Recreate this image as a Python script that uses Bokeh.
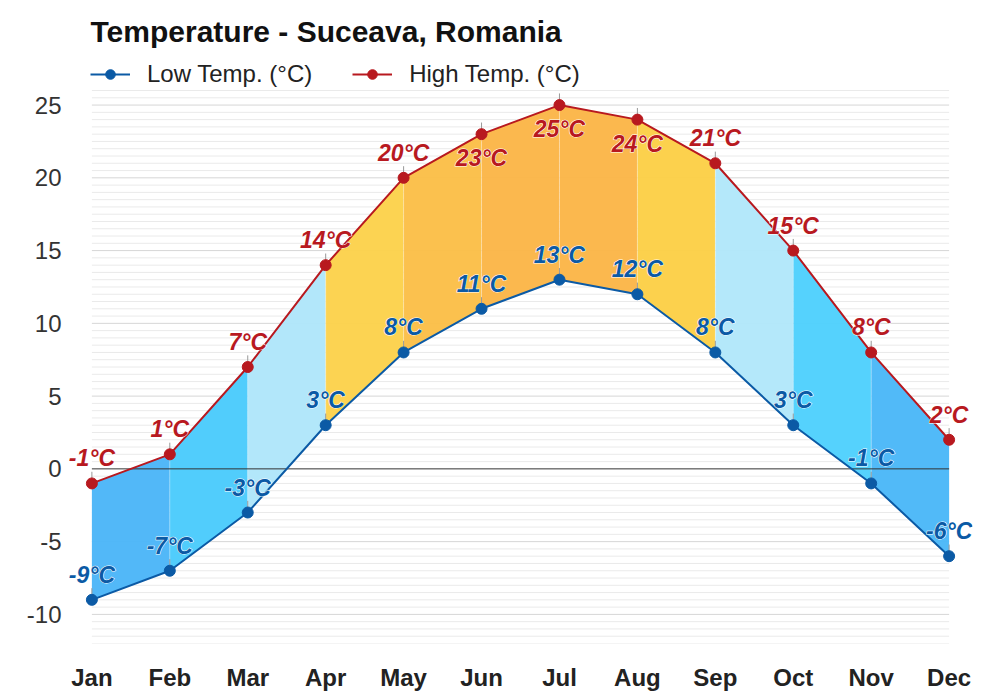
from bokeh.plotting import figure
from bokeh.models import (FixedTicker, Legend, LegendItem)
from bokeh.core.properties import value
from bokeh.embed import file_html
from bokeh.resources import INLINE

months = ["Jan", "Feb", "Mar", "Apr", "May", "Jun", "Jul", "Aug", "Sep", "Oct", "Nov", "Dec"]
low_temp = [-9, -7, -3, 3, 8, 11, 13, 12, 8, 3, -1, -6]
high_temp = [-1, 1, 7, 14, 20, 23, 25, 24, 21, 15, 8, 2]
high_label_below = ["Jun", "Jul", "Aug"]
y_ticks = [-10, -5, 0, 5, 10, 15, 20, 25]
grid_min, grid_max, grid_step = -12, 26, 0.5

seg_colors = ["#4cb6f8", "#4bcbfc", "#b0e6fa", "#fcd24c", "#fbbf48", "#fbb648",
              "#fbb648", "#fcd047", "#b2e7fa", "#4fd1fd", "#4bb8f8"]

FONT = "Liberation Sans"
LOW_C = "#0b5aa5"
HIGH_C = "#b8191f"

xs = list(range(len(months)))
x_first, x_last = xs[0], xs[-1]

p = figure(width=1000, height=700, output_backend="svg", toolbar_location=None,
           x_range=(-0.3, 11.3), y_range=(-12, 28.75),
           min_border_left=68, min_border_right=28, min_border_bottom=57, min_border_top=50)
p.outline_line_color = None
p.background_fill_color = "white"
p.border_fill_color = "white"
p.xgrid.grid_line_color = None
p.ygrid.grid_line_color = None

# manual horizontal grid limited to the data span
n_grid = int(round((grid_max - grid_min) / grid_step)) + 1
grid_vals = [grid_min + k * grid_step for k in range(n_grid)]
minor_vals = [g for g in grid_vals if g % 5 != 0]
major_vals = [g for g in grid_vals if g % 5 == 0 and g != 0]
p.segment(x0=[x_first] * len(minor_vals), y0=minor_vals, x1=[x_last] * len(minor_vals),
          y1=minor_vals, line_color="#eaeaea", line_width=1)
p.segment(x0=[x_first] * len(major_vals), y0=major_vals, x1=[x_last] * len(major_vals),
          y1=major_vals, line_color="#d6d6d6", line_width=1)

# segment fills
patch_xs, patch_ys = [], []
for i in range(len(months) - 1):
    patch_xs.append([xs[i], xs[i + 1], xs[i + 1], xs[i]])
    patch_ys.append([low_temp[i], low_temp[i + 1], high_temp[i + 1], high_temp[i]])
p.patches(patch_xs, patch_ys, fill_color=seg_colors, line_color=None, fill_alpha=0.97)

# faint boundaries between segments
p.segment(x0=xs[1:-1], y0=low_temp[1:-1], x1=xs[1:-1], y1=high_temp[1:-1],
          line_color="white", line_alpha=0.3, line_width=1)

# zero line
p.segment(x0=[x_first], y0=[0], x1=[x_last], y1=[0], line_color="#333333", line_width=1)

# connector ticks above points
tick_len = 0.8
p.segment(x0=xs, y0=high_temp, x1=xs, y1=[h + tick_len for h in high_temp],
          line_color="#999999", line_width=1)
p.segment(x0=xs, y0=low_temp, x1=xs, y1=[l + tick_len for l in low_temp],
          line_color="#999999", line_width=1)

# lines
low_line = p.line(xs, low_temp, line_color=LOW_C, line_width=2)
high_line = p.line(xs, high_temp, line_color=HIGH_C, line_width=2)
low_pts = p.scatter(xs, low_temp, size=11, fill_color=LOW_C, line_color=LOW_C)
high_pts = p.scatter(xs, high_temp, size=11, fill_color=HIGH_C, line_color=HIGH_C)

# labels
def add_labels(vals, color, below_set):
    groups = {"above": ([], [], []), "below": ([], [], [])}
    for m, x, v in zip(months, xs, vals):
        g = groups["below" if m in below_set else "above"]
        g[0].append(x); g[1].append(v); g[2].append(f"{v}°C")
    common = dict(text_font=value(FONT), text_font_size="23px", text_font_style="bold italic",
                  text_align="center", text_baseline="middle")
    for key, off in (("above", -25), ("below", 24)):
        gx, gy, gt = groups[key]
        if gx:
            p.text(gx, gy, text=gt, y_offset=off, text_color="white",
                   text_outline_color="white", **common)
            p.text(gx, gy, text=gt, y_offset=off, text_color=color, **common)

add_labels(high_temp, HIGH_C, high_label_below)
add_labels(low_temp, LOW_C, [])

# axes
p.xaxis.ticker = FixedTicker(ticks=xs)
p.xaxis.major_label_overrides = {x: m for x, m in zip(xs, months)}
p.yaxis.ticker = FixedTicker(ticks=y_ticks)
p.yaxis.major_label_overrides = {t: str(t) for t in y_ticks}
for ax in (p.xaxis, p.yaxis):
    ax.axis_line_color = None
    ax.major_tick_line_color = None
    ax.minor_tick_line_color = None
    ax.major_label_text_font = FONT
    ax.major_label_text_font_size = "24px"
    ax.major_label_text_color = "#222222"
p.xaxis.major_label_text_font_style = "bold"
p.xaxis.major_label_standoff = 14
p.yaxis.major_label_standoff = 1
p.yaxis.major_label_text_color = "#333333"

# legend inside the (extended) frame, above the grid
legend = Legend(items=[LegendItem(label="Low Temp. (°C)", renderers=[low_line, low_pts]),
                       LegendItem(label="High Temp. (°C)", renderers=[high_line, high_pts])],
                orientation="horizontal", location=(22, 555),
                label_text_font=FONT, label_text_font_size="24px", label_text_color="#222222",
                glyph_width=40, glyph_height=24, spacing=40, padding=0, margin=0,
                border_line_color=None, background_fill_alpha=0, label_standoff=17)
p.add_layout(legend)

# title
p.title.text = "Temperature - Suceava, Romania"
p.title.text_font = FONT
p.title.text_font_size = "30px"
p.title.text_font_style = "bold"
p.title.text_color = "#111111"
p.title.align = "left"
p.title.offset = 22
p.title.standoff = 5

open("out.html", "w").write(file_html(p, INLINE))
